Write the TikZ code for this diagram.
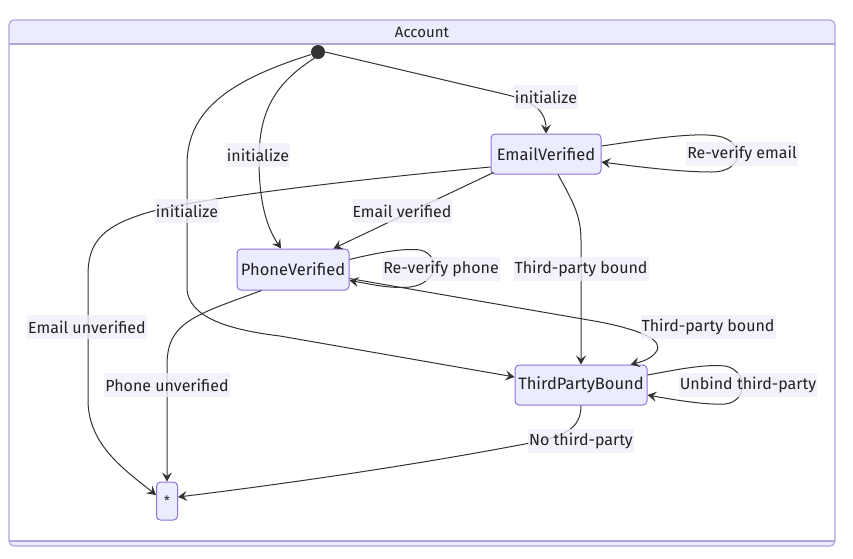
\documentclass[tikz,border=0pt]{standalone}
\usepackage{fontspec}
\setmainfont{Fira Sans}
\usetikzlibrary{arrows.meta,calc}
\definecolor{nodefill}{HTML}{ECECFF}
\definecolor{nodeline}{HTML}{9370DB}
\definecolor{clusterline}{HTML}{B3A4DE}
\definecolor{edgecol}{HTML}{333333}
\definecolor{lblfill}{HTML}{EFEFFA}
\definecolor{txt}{HTML}{222222}
\begin{document}
\begin{tikzpicture}[x=1pt,y=-1pt,
  state/.style={draw=nodeline, fill=nodefill, rounded corners=4pt, line width=1pt, inner sep=0pt, text=txt, font=\fontsize{16.5}{18}\selectfont},
  lbl/.style={fill=lblfill, fill opacity=0.8, text opacity=1, inner xsep=1pt, inner ysep=0pt, minimum height=24pt, text=txt, font=\fontsize{16}{18}\selectfont},
  edge/.style={draw=edgecol, line width=1pt, -{Stealth[length=9pt,width=10pt,inset=3.5pt]}},
]
\useasboundingbox (0,0) rectangle (853,558);
% cluster
\fill[white, rounded corners=5pt] (9,20) rectangle (835,546);
\fill[nodefill, rounded corners=5pt] (9,20) rectangle (835,52);
\fill[white] (9.8,44) rectangle (834.2,56);
\fill[nodefill] (9.8,541) rectangle (834.2,545.5);
\draw[clusterline, line width=1.2pt, rounded corners=5pt] (9,20) rectangle (835,546);
\draw[clusterline, line width=1.2pt] (9,44) -- (835,44);
\draw[clusterline, line width=1.2pt] (9,541) -- (835,541);
\node[text=txt, font=\fontsize{15}{17}\selectfont] (title) at (422,32) {Account};

% states
\node[circle, fill=edgecol, minimum size=14pt, inner sep=0pt] (start) at (318,52) {};
\node[state, minimum width=110pt, minimum height=40pt] (ev) at (546,154) {EmailVerified};
\node[state, minimum width=112pt, minimum height=41pt] (pv) at (293,269.5) {PhoneVerified};
\node[state, minimum width=132pt, minimum height=40pt] (tpb) at (581,385) {ThirdPartyBound};
\node[state, minimum width=21pt, minimum height=38pt, font=\fontsize{13}{14}\selectfont] (end) at (167,501) {*};

% edges
\draw[edge] (start.east) -- (508,95) .. controls (535,102) and (546,112) .. (ev.north);
\draw[edge] (start.240) .. controls (272,85) and (259,115) .. (259,160) .. controls (259,210) and (270,232) .. ($(pv.north)+(-12,0)$);
\draw[edge] (start.200) .. controls (230,80) and (187,110) .. (187,165) -- (187,290) .. controls (190,318) and (230,330) .. (280,336) -- ($(tpb.west)+(0,-8)$);
\draw[edge] ($(ev.south west)+(3,-2)$) -- ($(pv.north east)+(-16,0)$);
\draw[edge] ($(ev.west)+(0,13)$) .. controls (350,180) and (180,200) .. (140,215) .. controls (100,228) and (88,245) .. (88,275) -- (88,400) .. controls (88,445) and (125,470) .. ($(end.west)+(0,-6)$);
\draw[edge] ($(ev.east)+(0,-8)$) .. controls (650,139) and (700,131) .. (722,137) .. controls (746,145) and (742,172) .. (712,172) .. controls (680,172) and (640,167) .. ($(ev.east)+(0,8)$);
\draw[edge] ($(ev.south)+(12,0)$) .. controls (572,200) and (581,215) .. (581,240) -- (tpb.north);
\draw[edge] ($(pv.east)+(0,-10)$) .. controls (380,252) and (405,248) .. (420,250) .. controls (440,254) and (440,283) .. (410,287) .. controls (390,289) and (370,284) .. ($(pv.east)+(0,11)$);
\draw[edge] ($(pv.south west)+(25,0)$) .. controls (195,315) and (167,322) .. (167,365) -- (end.north);
\draw[edge] ($(pv.east)+(0,9)$) -- (600,322) .. controls (640,330) and (665,340) .. (656,352) .. controls (650,360) and (640,362) .. ($(tpb.north east)+(-17,0)$);
\draw[edge] ($(tpb.east)+(0,-10)$) .. controls (680,369) and (705,364) .. (725,366) .. controls (748,370) and (748,402) .. (725,404) .. controls (705,405) and (675,400) .. ($(tpb.east)+(0,10)$);
\draw[edge] (tpb.south) .. controls (581,430) and (562,437) .. (530,443) .. controls (400,468) and (260,487) .. ($(end.east)+(0,-4)$);

% labels
\node[lbl] (l1) at (546,97) {initialize};
\node[lbl] (l2) at (258,155) {initialize};
\node[lbl] (l3) at (187,211) {initialize};
\node[lbl] (l4) at (402,211) {Email verified};
\node[lbl] (l5) at (742,154) {Re-verify email};
\node[lbl] (l6) at (581,269) {Third-party bound};
\node[lbl] (l7) at (441,269) {Re-verify phone};
\node[lbl] (l8) at (87,327) {Email unverified};
\node[lbl] (l9) at (708,327) {Third-party bound};
\node[lbl] (l10) at (167,385) {Phone unverified};
\node[lbl] (l11) at (748,385) {Unbind third-party};
\node[lbl] (l12) at (581,441) {No third-party};
\end{tikzpicture}
\end{document}
